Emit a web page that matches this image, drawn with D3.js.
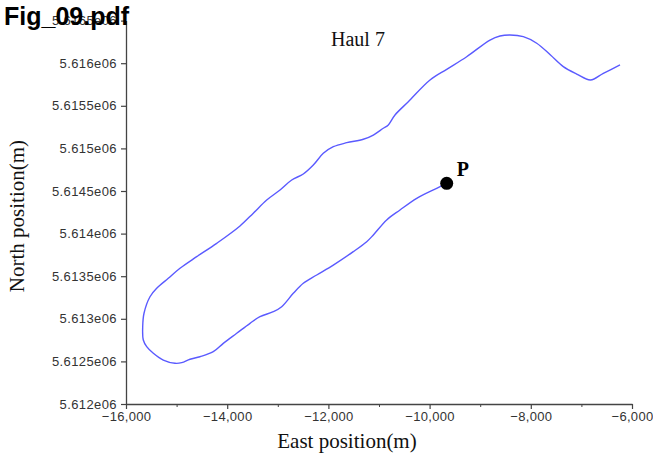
<!DOCTYPE html>
<html>
<head>
<meta charset="utf-8">
<script src="https://cdn.jsdelivr.net/npm/d3@7"></script>
<style>
  html, body { margin: 0; padding: 0; background: #fff; }
  svg { display: block; }
</style>
</head>
<body>
<svg id="chart" width="653" height="457"></svg>
<script>
// ---- data ----
const title = "Haul 7";
const figLabel = "Fig_09.pdf";
const xLabel = "East position(m)";
const yLabel = "North position(m)";
const eastPos = [
  -9662, -9860, -10255, -10585, -10848, -11112, -11243, -11508, -11903, -12231,
  -12496, -12694, -12923, -13089, -13352, -13549, -13812, -14077, -14275, -14538,
  -14735, -14899, -15032, -15263, -15460, -15591, -15658, -15670, -15644, -15526,
  -15393, -15164, -14933, -14603, -14208, -13747, -13484, -13219, -12956, -12725,
  -12496, -12298, -12101, -11903, -11638, -11310, -11112, -10915, -10816, -10684,
  -10421, -9992, -9662, -9267, -8806, -8609, -8411, -8148, -7883, -7611,
  -7358, -7093, -6820, -6567, -6237
];
const northPos = [
  5614590, 5614532, 5614414, 5614277, 5614160, 5613984, 5613905, 5613788, 5613631, 5613514,
  5613417, 5613299, 5613142, 5613083, 5613025, 5612947, 5612830, 5612712, 5612614, 5612555,
  5612525, 5612485, 5612478, 5612516, 5612595, 5612673, 5612751, 5612907, 5613065, 5613259,
  5613358, 5613475, 5613593, 5613729, 5613886, 5614090, 5614240, 5614394, 5614512, 5614629,
  5614700, 5614805, 5614942, 5615020, 5615067, 5615107, 5615157, 5615236, 5615275, 5615392,
  5615548, 5615803, 5615928, 5616076, 5616272, 5616319, 5616331, 5616311, 5616234, 5616096,
  5615959, 5615873, 5615803, 5615881, 5615979
];
const pointLabel = "P";
const pointEast = [-9662];
const pointNorth = [5614590];
const xTicks = [-16000, -14000, -12000, -10000, -8000, -6000];
const xMinorTicks = [-15000, -13000, -11000, -9000, -7000];
const yTicks = [5612000, 5612500, 5613000, 5613500, 5614000, 5614500, 5615000, 5615500, 5616000, 5616500];

// ---- layout ----
const W = 653, H = 457;
const m = { left: 126, right: 21, top: 20.6, bottom: 53 };
const svg = d3.select("#chart");

const x = d3.scaleLinear().domain([-16000, -6000]).range([m.left, W - m.right]);
const y = d3.scaleLinear().domain([5612000, 5616500]).range([H - m.bottom, m.top]);

const axisColor = "#444";
const tickFont = "'Liberation Sans', Arial, sans-serif";
const serif = "'Liberation Serif', 'Times New Roman', serif";

// Y axis
const yFmt = v => {
  let s = (v / 1e6).toFixed(4).replace(/0+$/, "").replace(/\.$/, "");
  return s + "e06";
};
const yAxis = svg.append("g")
  .attr("transform", `translate(${m.left},0)`)
  .call(d3.axisLeft(y).tickValues(yTicks).tickFormat(yFmt).tickSize(5).tickPadding(4).tickSizeOuter(0));
yAxis.select(".domain").attr("stroke", axisColor).attr("stroke-width", 1.3);
yAxis.selectAll(".tick line").attr("stroke", axisColor).attr("stroke-width", 1.2);
yAxis.selectAll(".tick text")
  .attr("fill", "#333").attr("font-family", tickFont).attr("font-size", 13)
  .attr("letter-spacing", 0.4);

// X axis
const xAxis = svg.append("g")
  .attr("transform", `translate(0,${H - m.bottom})`)
  .call(d3.axisBottom(x).tickValues(xTicks).tickFormat(d3.format(",")).tickSize(5).tickPadding(3).tickSizeOuter(0));
xAxis.select(".domain").attr("stroke", axisColor).attr("stroke-width", 1.3);
xAxis.selectAll(".tick line").attr("stroke", axisColor).attr("stroke-width", 1.2);
xAxis.selectAll(".tick text")
  .attr("fill", "#333").attr("font-family", tickFont).attr("font-size", 13)
  .attr("letter-spacing", 0.3);
const xMinor = svg.append("g")
  .attr("transform", `translate(0,${H - m.bottom})`)
  .call(d3.axisBottom(x).tickValues(xMinorTicks).tickFormat("").tickSize(3).tickSizeOuter(0));
xMinor.select(".domain").remove();
xMinor.selectAll(".tick line").attr("stroke", axisColor).attr("stroke-width", 1);

// track line
const pts = eastPos.map((e, i) => [e, northPos[i]]);
const line = d3.line().x(d => x(d[0])).y(d => y(d[1])).curve(d3.curveCatmullRom.alpha(0.5));
svg.append("path")
  .datum(pts)
  .attr("d", line)
  .attr("fill", "none")
  .attr("stroke", "#5a5aff")
  .attr("stroke-width", 1.4);

// point P
svg.selectAll("circle.p")
  .data(pointEast.map((e, i) => [e, pointNorth[i]]))
  .enter().append("circle")
  .attr("class", "p")
  .attr("cx", d => x(d[0]))
  .attr("cy", d => y(d[1]))
  .attr("r", 6.5)
  .attr("fill", "#000");
svg.append("text")
  .attr("x", x(pointEast[0]) + 10)
  .attr("y", y(pointNorth[0]) - 7)
  .attr("font-family", serif)
  .attr("font-weight", "bold")
  .attr("font-size", 20)
  .attr("fill", "#000")
  .text(pointLabel);

// title
svg.append("text")
  .attr("x", 358).attr("y", 46)
  .attr("text-anchor", "middle")
  .attr("font-family", serif)
  .attr("font-size", 20)
  .attr("fill", "#111")
  .text(title);

// axis labels
svg.append("text")
  .attr("x", (x(-16000) + x(-6000)) / 2 - 32).attr("y", 448)
  .attr("text-anchor", "middle")
  .attr("font-family", serif)
  .attr("font-size", 21)
  .attr("fill", "#111")
  .text(xLabel);
svg.append("text")
  .attr("transform", "translate(24,216) rotate(-90)")
  .attr("text-anchor", "middle")
  .attr("font-family", serif)
  .attr("font-size", 21)
  .attr("fill", "#111")
  .text(yLabel);

// figure file label (overlaps the top tick label, as in the reference)
svg.append("text")
  .attr("x", 4).attr("y", 25)
  .attr("font-family", "'Liberation Sans', Arial, sans-serif")
  .attr("font-weight", "bold")
  .attr("font-size", 25)
  .attr("fill", "#000")
  .text(figLabel);
</script>
</body>
</html>
